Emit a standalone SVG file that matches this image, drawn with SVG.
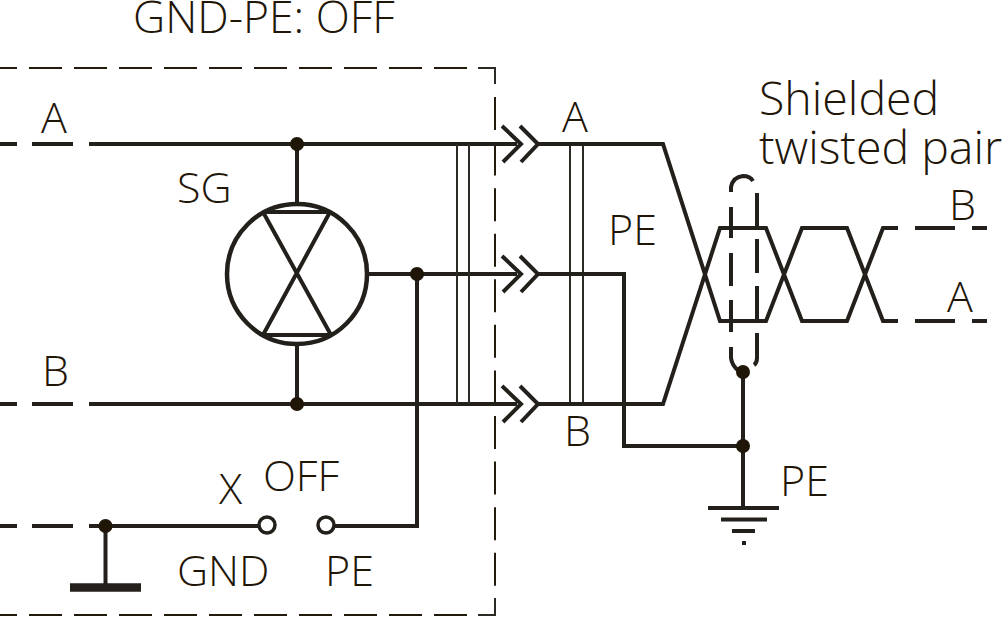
<svg xmlns="http://www.w3.org/2000/svg" width="1006" height="617" viewBox="0 0 1006 617">
<style>
.w{fill:none;stroke:#231f1a;stroke-width:4;stroke-linejoin:miter}
.thin{fill:none;stroke:#2d2a26;stroke-width:2}
.box{fill:none;stroke:#231a0e;stroke-width:2;stroke-dasharray:33 12}
.dot{fill:#1f1608}
.open{fill:#fff;stroke:#231f1a;stroke-width:3.5}
text{font-family:"Open Sans","Noto Sans",sans-serif;font-size:43px;font-weight:300;fill:#1f1608}
.big{font-size:46.500px}
.title{font-size:44.500px}
</style>
<rect width="1006" height="617" fill="#fff"/>
<g id="connectors">
<path class="box" d="M-16 68H478" stroke-dashoffset="0"/>
<path class="box" d="M-16 615H478"/>
<path class="thin" d="M478 68H495V84M495 598V615H478"/>
<path class="box" d="M495 97V590" style="stroke-dasharray:33 12.570"/>
<path class="w" d="M0 144H17M32 144H73M89 144H517"/>
<path class="w" d="M0 404H17M32 404H73M89 404H517"/>
<path class="w" d="M0 526H17M32 526H73M89 526H268"/>
<path class="w" d="M297 144V203M297 346V404"/>
<path class="w" d="M369 274H517"/>
<path class="w" d="M417 274V526H326"/>
<path class="thin" d="M457 144V404M469 144V404M570 144V404M583 144V404"/>
<path class="w" d="M502 126L521 144L503 162M520 126L538 144L521 162"/>
<path class="w" d="M502 256L521 274L503 292M520 256L538 274L521 292"/>
<path class="w" d="M502 386L521 404L503 422M520 386L538 404L521 422"/>
<path class="w" d="M538 144H663L720 321H766L802 228H847L883 321H898M915 321H955M972 321H987"/>
<path class="w" d="M538 404H663L720 228H766L802 321H847L883 228H898M915 228H955M972 228H987"/>
<path class="w" d="M538 274H624V446H743"/>
<path class="w" d="M743 372V508"/>
<path class="w" d="M708 508H779M721 519.500H767M732 531H755M742 543H746"/>
<path class="w" d="M731 192V187Q733 177 743 176Q750 176 753 181"/>
<path class="w" d="M731 207V238M731 253V286M731 300V332M731 347V358Q732 366 739 371"/>
<path class="w" d="M757 193V227M757 239V273M757 286V320M757 333V358Q757 363 754 365"/>
<path class="w" d="M105.500 526V586"/>
<path d="M70 587.500H141" fill="none" stroke="#231f1a" stroke-width="8.500"/>
</g>
<g id="sg"><circle cx="297" cy="274" r="70" fill="none" stroke="#231f1a" stroke-width="4.500"/>
<path class="w" d="M264 212H330M264 335H330M263 212L331 335M330 212L263 335"/></g>
<g id="junctions">
<circle class="dot" cx="297" cy="144" r="7"/><circle class="dot" cx="297" cy="404" r="7"/><circle class="dot" cx="417" cy="274" r="7"/><circle class="dot" cx="105.500" cy="526" r="7"/><circle class="dot" cx="743" cy="372" r="7"/><circle class="dot" cx="743" cy="446" r="7"/>
<circle class="open" cx="267" cy="525" r="8"/><circle class="open" cx="326" cy="525" r="8"/>
</g>
<g id="labels">
<text class="title" x="133" y="33">GND-PE: OFF</text>
<text x="41" y="133">A</text><text x="42" y="386">B</text>
<text x="177" y="203">SG</text>
<text x="219" y="504">X</text><text x="263" y="491">OFF</text>
<text x="177" y="586">GND</text><text x="325" y="586">PE</text>
<text x="562" y="132">A</text><text x="564" y="446">B</text><text x="608" y="245">PE</text><text x="780" y="496">PE</text>
<text x="949" y="220">B</text><text x="947" y="312">A</text>
<text class="big" x="759" y="115">Shielded</text><text class="big" x="759" y="164">twisted pair</text>
</g>
</svg>
